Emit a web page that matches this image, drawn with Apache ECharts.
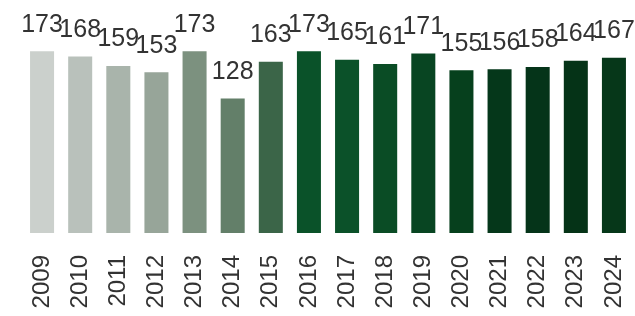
<!DOCTYPE html>
<html>
<head>
<meta charset="utf-8">
<script src="https://cdn.jsdelivr.net/npm/echarts@6/dist/echarts.min.js"></script>
<style>
    html, body {margin: 0; padding: 0; background: #fff;}
    #main {width: 635px; height: 316px;}
</style>
</head>
<body>
<div id="main"></div>
<script>
var years = ['2009', '2010', '2011', '2012', '2013', '2014', '2015', '2016',
    '2017', '2018', '2019', '2020', '2021', '2022', '2023', '2024'];
var values = [173, 168, 159, 153, 173, 128, 163, 173, 165, 161, 171, 155, 156, 158, 164, 167];
var barColors = ['#cbd0cc', '#b9c1bb', '#a9b4ab', '#97a599', '#7c917f', '#637f69', '#3b6548', '#0a5229',
    '#0b5129', '#0a4c25', '#084522', '#06401d', '#05371a', '#053419', '#053317', '#063719'];

var chart = echarts.init(document.getElementById('main'));
var data = [];
for (var i = 0; i < values.length; i++) {
    data.push({value: values[i], itemStyle: {color: barColors[i]}});
}
var option = {
    animation: false,
    textStyle: {fontFamily: 'Liberation Sans, Arial, sans-serif'},
    grid: {left: 23, right: 2, top: 44, bottom: 83},
    xAxis: {
        type: 'category',
        data: years,
        axisLine: {show: false},
        axisTick: {show: false},
        axisLabel: {rotate: 90, fontSize: 24, color: '#333', margin: 22}
    },
    yAxis: {
        type: 'value',
        min: 0,
        max: 180,
        show: false
    },
    series: [{
        type: 'bar',
        data: data,
        barWidth: '63%',
        label: {show: true, position: 'top', distance: 14, fontSize: 25, color: '#333'}
    }]
};
chart.setOption(option);
</script>
</body>
</html>
